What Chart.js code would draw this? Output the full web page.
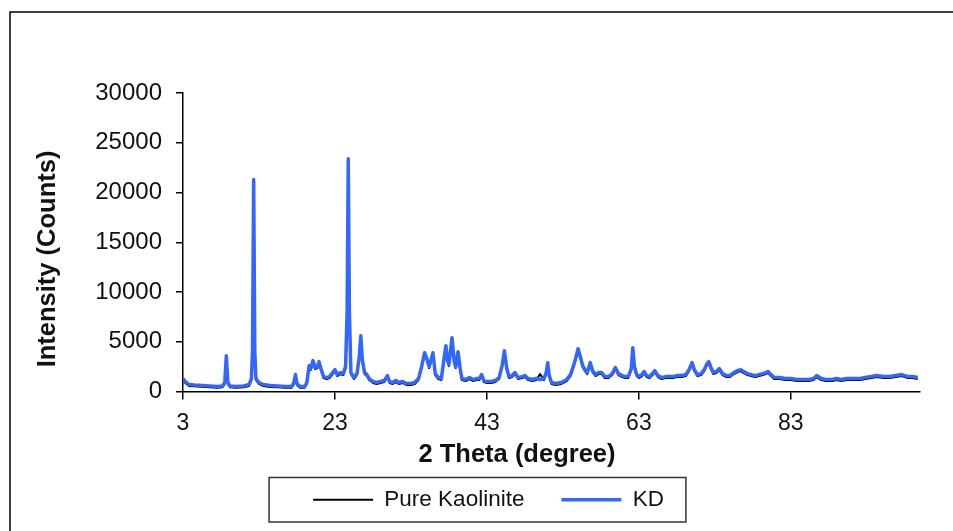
<!DOCTYPE html>
<html>
<head>
<meta charset="utf-8">
<title>XRD</title>
<script src="https://cdn.jsdelivr.net/npm/chart.js@4.4.1/dist/chart.umd.min.js"></script>
<style>
  html, body { margin: 0; padding: 0; background: #fff; }
  #wrap { position: relative; width: 953px; height: 531px; }
</style>
</head>
<body>
<div id="wrap"><canvas id="xrd"></canvas></div>
<script>
// 2 theta positions (degree) shared by both patterns
const twoTheta = [
  3.0, 3.3, 3.8, 4.5, 5.5, 6.5, 7.5, 8.2, 8.5, 8.7, 8.9, 9.2, 10.0, 11.0, 11.7,
  12.0, 12.15, 12.3, 12.45, 12.6, 13.0, 13.5, 14.5, 15.5, 16.5, 17.3, 17.6, 17.8, 18.0, 18.4,
  19.0, 19.3, 19.6, 19.8, 20.1, 20.4, 20.7, 20.9, 21.2, 21.5, 21.9, 22.3, 22.7, 23.0, 23.3,
  23.7, 24.1, 24.4, 24.6, 24.75, 24.9, 25.1, 25.5, 25.9, 26.2, 26.4, 26.6, 26.9, 27.2, 27.5,
  28.0, 28.5, 29.0, 29.5, 29.9, 30.2, 30.6, 31.0, 31.4, 31.9, 32.4, 33.0, 33.5, 34.0, 34.4,
  34.8, 35.1, 35.4, 35.9, 36.2, 36.6, 37.0, 37.3, 37.6, 37.8, 38.0, 38.4, 38.7, 38.9, 39.2,
  39.5, 39.7, 40.2, 40.7, 41.2, 41.6, 42.0, 42.3, 42.6, 43.0, 43.6, 44.1, 44.6, 45.0, 45.3,
  45.6, 45.9, 46.3, 46.7, 47.1, 47.6, 48.0, 48.4, 49.0, 49.5, 50.0, 50.5, 50.8, 51.0, 51.2,
  51.5, 52.0, 52.8, 53.5, 54.0, 54.4, 54.7, 55.0, 55.3, 55.6, 55.9, 56.2, 56.6, 56.9, 57.3,
  57.7, 58.1, 58.5, 59.0, 59.5, 59.9, 60.3, 60.8, 61.2, 61.6, 62.0, 62.2, 62.4, 62.7, 63.0,
  63.4, 63.7, 64.0, 64.4, 64.8, 65.1, 65.5, 66.0, 66.5, 67.0, 67.5, 68.0, 68.6, 69.2, 69.6,
  70.0, 70.3, 70.7, 71.2, 71.6, 71.9, 72.2, 72.5, 72.8, 73.2, 73.6, 74.0, 74.5, 75.0, 75.5,
  76.0, 76.4, 76.8, 77.3, 77.8, 78.3, 78.8, 79.3, 79.7, 80.0, 80.4, 80.8, 81.5, 82.3, 83.0,
  83.8, 84.6, 85.4, 86.0, 86.4, 87.0, 87.6, 88.5, 89.0, 89.6, 90.4, 91.2, 92.1, 92.8, 93.6,
  94.3, 95.2, 96.0, 96.8, 97.6, 98.4, 99.0, 99.7
]

// KD intensity (counts)
const kdCounts = [
  1300, 1000, 700, 650, 600, 550, 500, 550, 900, 3600, 900, 550, 500, 550, 700,
  1300, 4000, 21300, 4000, 1300, 900, 700, 600, 550, 500, 500, 900, 1700, 800, 500,
  500, 900, 2600, 2300, 3100, 2400, 2500, 3000, 2200, 1500, 1400, 1500, 1900, 2200, 1700,
  1900, 1800, 2500, 8000, 23400, 8000, 1900, 1400, 1800, 3500, 5600, 3200, 1900, 1700, 1300,
  1000, 900, 1000, 1100, 1600, 1000, 900, 1100, 900, 1000, 800, 800, 900, 1300, 2500,
  3900, 3300, 2500, 3900, 1800, 1400, 1300, 3000, 4600, 3200, 2700, 5400, 3000, 2500, 4000,
  2200, 1300, 1200, 1400, 1200, 1300, 1300, 1700, 1100, 1000, 1000, 1100, 1400, 2600, 4100,
  2400, 1500, 1600, 1900, 1400, 1500, 1600, 1300, 1200, 1300, 1200, 1300, 1900, 2900, 1600,
  900, 800, 900, 1200, 1700, 2600, 3400, 4300, 3500, 2600, 2200, 1900, 2900, 2100, 1700,
  1900, 1900, 1500, 1500, 1800, 2400, 1800, 1600, 1500, 1500, 2300, 4400, 2600, 1700, 1500,
  1700, 2000, 1600, 1500, 1800, 2100, 1600, 1400, 1500, 1500, 1500, 1600, 1600, 1700, 2200,
  2900, 2200, 1700, 1800, 2200, 2700, 3000, 2400, 1900, 2000, 2300, 1800, 1600, 1600, 1900,
  2100, 2200, 2000, 1800, 1700, 1600, 1700, 1800, 1900, 2000, 1700, 1400, 1400, 1300, 1300,
  1200, 1200, 1200, 1300, 1600, 1300, 1200, 1200, 1300, 1200, 1300, 1300, 1300, 1400, 1500,
  1600, 1500, 1500, 1600, 1700, 1500, 1500, 1400
]

// Pure kaolinite intensity (counts)
const kaoliniteCounts = [
  1150, 850, 560, 520, 470, 420, 380, 430, 780, 3450, 760, 420, 380, 420, 560,
  1150, 3800, 21000, 3800, 1150, 760, 560, 460, 420, 370, 370, 760, 1550, 660, 370,
  380, 760, 2450, 2150, 2950, 2250, 2350, 2850, 2050, 1350, 1250, 1350, 1750, 2050, 1550,
  1750, 1650, 2350, 7800, 23100, 7800, 1750, 1250, 1650, 3350, 5450, 3050, 1750, 1550, 1150,
  860, 760, 860, 950, 1450, 860, 760, 950, 760, 860, 660, 660, 760, 1150, 2350,
  3750, 3150, 2350, 3750, 1650, 1250, 1150, 2850, 4450, 3050, 2550, 5250, 2850, 2350, 3850,
  2050, 1150, 1050, 1250, 1050, 1150, 1150, 1550, 950, 860, 860, 950, 1250, 2450, 3950,
  2250, 1350, 1450, 1750, 1250, 1350, 1450, 1150, 1050, 1150, 1750, 1150, 1750, 2750, 1450,
  760, 660, 760, 1050, 1550, 2450, 3250, 4150, 3350, 2450, 2050, 1750, 2750, 1950, 1550,
  1750, 1750, 1350, 1350, 1650, 2250, 1650, 1450, 1350, 1350, 2150, 4250, 2450, 1550, 1350,
  1550, 1850, 1450, 1350, 1650, 1950, 1450, 1250, 1350, 1350, 1350, 1450, 1450, 1550, 2050,
  2750, 2050, 1550, 1650, 2050, 2550, 2850, 2250, 1750, 1850, 2150, 1650, 1450, 1450, 1750,
  1950, 2050, 1850, 1650, 1550, 1450, 1550, 1650, 1750, 1850, 1550, 1250, 1250, 1150, 1150,
  1050, 1050, 1050, 1150, 1450, 1150, 1050, 1050, 1150, 1050, 1150, 1150, 1150, 1250, 1350,
  1450, 1350, 1350, 1450, 1550, 1350, 1350, 1250
]

const xTicks = [3, 23, 43, 63, 83]
const yTicks = [0, 5000, 10000, 15000, 20000, 25000, 30000]

const xTitle = '2 Theta (degree)'
const yTitle = 'Intensity (Counts)'

const FONT = 'Arial, "Liberation Sans", sans-serif'

function toPoints(counts) {
  return twoTheta.map((t, i) => ({ x: t, y: counts[i] }))
}

// outer frame, axis titles and the box round the legend
const framePlugin = {
  id: 'framePlugin',
  beforeDraw(chart) {
    const ctx = chart.ctx
    ctx.save()
    ctx.strokeStyle = '#000'
    ctx.lineWidth = 1.5
    ctx.strokeRect(10, 12, chart.width + 20, chart.height + 20)
    ctx.restore()
  },
  afterDraw(chart) {
    const ctx = chart.ctx
    const area = chart.chartArea
    ctx.save()
    ctx.fillStyle = '#111'
    ctx.font = 'bold 25.5px ' + FONT
    ctx.textAlign = 'center'
    ctx.textBaseline = 'middle'
    ctx.fillText(xTitle, area.left + 334, area.bottom + 63)
    ctx.translate(area.left - 135, area.top + 166)
    ctx.rotate(-Math.PI / 2)
    ctx.fillText(yTitle, 0, 0)
    ctx.restore()

    const boxes = chart.legend.legendHitBoxes
    if (!boxes || !boxes.length) return
    const first = boxes[0]
    const last = boxes[boxes.length - 1]
    const left = first.left - 44
    const right = last.left + last.width + 22
    ctx.save()
    ctx.strokeStyle = '#333'
    ctx.lineWidth = 1.5
    ctx.strokeRect(left, first.top - 11, right - left, first.height + 22)
    ctx.restore()
  }
}

new Chart(document.getElementById('xrd'), {
  type: 'line',
  data: {
    datasets: [
      {
        label: 'Pure Kaolinite',
        data: toPoints(kaoliniteCounts),
        borderColor: '#000',
        backgroundColor: '#000',
        borderWidth: 2,
        order: 1,
      },
      {
        label: 'KD',
        data: toPoints(kdCounts),
        borderColor: '#3366ff',
        backgroundColor: '#3366ff',
        borderWidth: 3.5,
        order: 0,
      },
    ],
  },
  options: {
    responsive: true,
    maintainAspectRatio: false,
    animation: false,
    layout: {
      padding: { left: 57, right: 33, top: 93, bottom: 10 },
    },
    elements: {
      point: { radius: 0 },
      line: { tension: 0, fill: false, borderJoinStyle: 'round' },
    },
    plugins: {
      tooltip: { enabled: false },
      legend: {
        position: 'bottom',
        labels: {
          usePointStyle: true,
          pointStyle: 'line',
          pointStyleWidth: 60,
          padding: 37,
          color: '#111',
          font: { family: FONT, size: 22.5 },
          sort: (a, b) => a.datasetIndex - b.datasetIndex,
        },
      },
    },
    scales: {
      x: {
        type: 'linear',
        min: 3,
        max: 100,
        afterBuildTicks: (scale) => { scale.ticks = xTicks.map((v) => ({ value: v })) },
        afterFit: (scale) => { scale.height = 60 },
        grid: { drawOnChartArea: false, tickLength: 8, color: '#000', lineWidth: 1.5 },
        border: { color: '#000', width: 1.5 },
        ticks: { color: '#111', padding: 10, maxRotation: 0, font: { family: FONT, size: 23 } },
      },
      y: {
        min: 0,
        max: 30000,
        afterBuildTicks: (scale) => { scale.ticks = yTicks.map((v) => ({ value: v })) },
        afterFit: (scale) => { scale.width = 126 },
        grid: { drawOnChartArea: false, tickLength: 7, color: '#000', lineWidth: 1.5 },
        border: { color: '#000', width: 1.5 },
        ticks: {
          color: '#111',
          padding: 14,
          font: { family: FONT, size: 24 },
          callback: (value) => String(value),
        },
      },
    },
  },
  plugins: [framePlugin],
})
</script>
</body>
</html>
